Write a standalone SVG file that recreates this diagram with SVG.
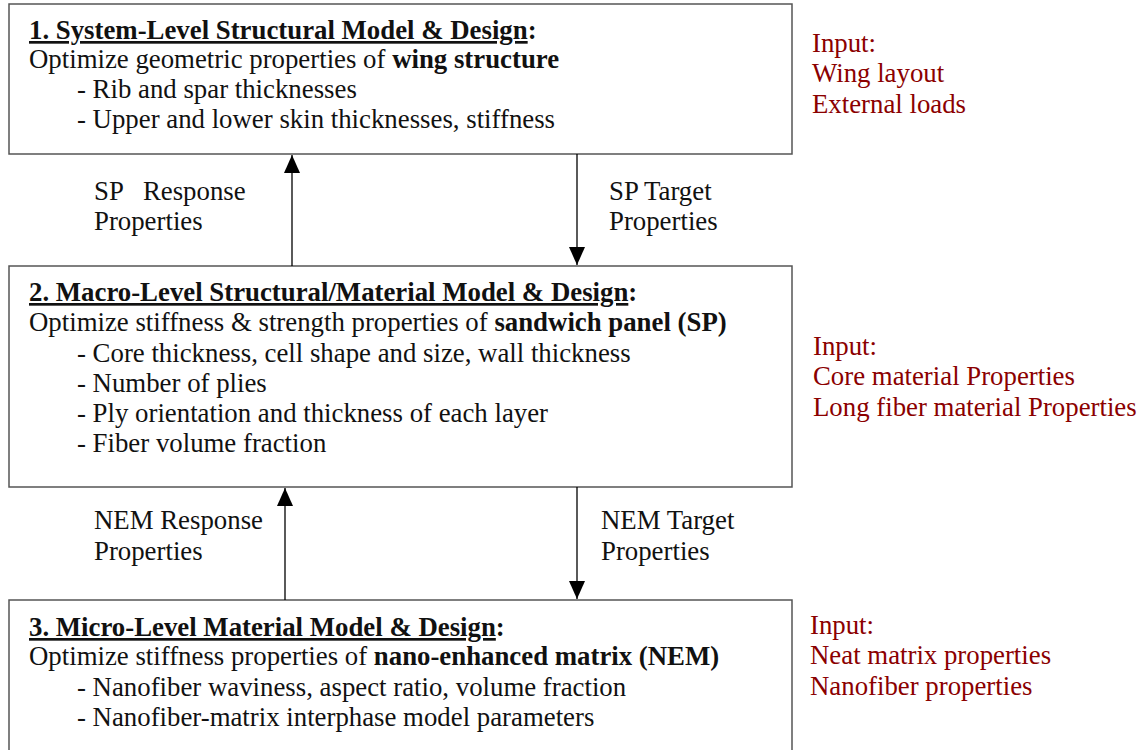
<svg xmlns="http://www.w3.org/2000/svg" width="1143" height="750" viewBox="0 0 1143 750">
<defs>
<marker id="ah" markerWidth="18" markerHeight="16" refX="18" refY="8" orient="auto" markerUnits="userSpaceOnUse" viewBox="0 0 18 16">
<path d="M0,0 L18,8 L0,16 Z" fill="#000"/>
</marker>
<style>
.box{fill:#fff;stroke:#555;stroke-width:1.5}
text{font-family:'Liberation Serif','Times New Roman',serif;font-size:26.8px}
.t{fill:#111}
.b{font-weight:bold}
.u{text-decoration:underline}
.in{fill:#8B0000}
.c{stroke:#000;stroke-width:1.3;fill:none}
</style>
</defs>
<rect width="1143" height="750" fill="#fff"/>
<g id="node1">
<rect class="box" x="9" y="4" width="783" height="150"/>
<text class="t b" x="29" y="39"><tspan class="u">1. System-Level Structural Model &amp; Design</tspan>:</text>
<text class="t" x="29" y="68">Optimize geometric properties of <tspan class="b">wing structure</tspan></text>
<text class="t" x="77" y="98">- Rib and spar thicknesses</text>
<text class="t" x="77" y="128">- Upper and lower skin thicknesses, stiffness</text>
</g>
<g id="node2">
<rect class="box" x="9" y="266" width="783" height="221"/>
<text class="t b" x="29" y="301"><tspan class="u">2. Macro-Level Structural/Material Model &amp; Design</tspan>:</text>
<text class="t" x="29" y="331">Optimize stiffness &amp; strength properties of <tspan class="b">sandwich panel (SP)</tspan></text>
<text class="t" x="77" y="362">- Core thickness, cell shape and size, wall thickness</text>
<text class="t" x="77" y="392">- Number of plies</text>
<text class="t" x="77" y="422">- Ply orientation and thickness of each layer</text>
<text class="t" x="77" y="452">- Fiber volume fraction</text>
</g>
<g id="node3">
<rect class="box" x="9" y="600" width="783" height="160"/>
<text class="t b" x="29" y="636"><tspan class="u">3. Micro-Level Material Model &amp; Design</tspan>:</text>
<text class="t" x="29" y="665">Optimize stiffness properties of <tspan class="b">nano-enhanced matrix (NEM)</tspan></text>
<text class="t" x="77" y="696">- Nanofiber waviness, aspect ratio, volume fraction</text>
<text class="t" x="77" y="726">- Nanofiber-matrix interphase model parameters</text>
</g>
<g id="input1">
<text class="in" x="812" y="52">Input:</text>
<text class="in" x="812" y="82">Wing layout</text>
<text class="in" x="812" y="113">External loads</text>
</g>
<g id="input2">
<text class="in" x="813" y="355">Input:</text>
<text class="in" x="813" y="385">Core material Properties</text>
<text class="in" x="813" y="416">Long fiber material Properties</text>
</g>
<g id="input3">
<text class="in" x="810" y="634">Input:</text>
<text class="in" x="810" y="664">Neat matrix properties</text>
<text class="in" x="810" y="695">Nanofiber properties</text>
</g>
<g id="connectors">
<line class="c" x1="292" y1="266" x2="292" y2="155" marker-end="url(#ah)"/>
<line class="c" x1="577" y1="154" x2="577" y2="265" marker-end="url(#ah)"/>
<line class="c" x1="285" y1="600" x2="285" y2="488" marker-end="url(#ah)"/>
<line class="c" x1="577" y1="487" x2="577" y2="599" marker-end="url(#ah)"/>
<text class="t" x="94" y="200" xml:space="preserve">SP   Response</text>
<text class="t" x="94" y="230">Properties</text>
<text class="t" x="609" y="200">SP Target</text>
<text class="t" x="609" y="230">Properties</text>
<text class="t" x="94" y="529">NEM Response</text>
<text class="t" x="94" y="560">Properties</text>
<text class="t" x="601" y="529">NEM Target</text>
<text class="t" x="601" y="560">Properties</text>
</g>
</svg>
